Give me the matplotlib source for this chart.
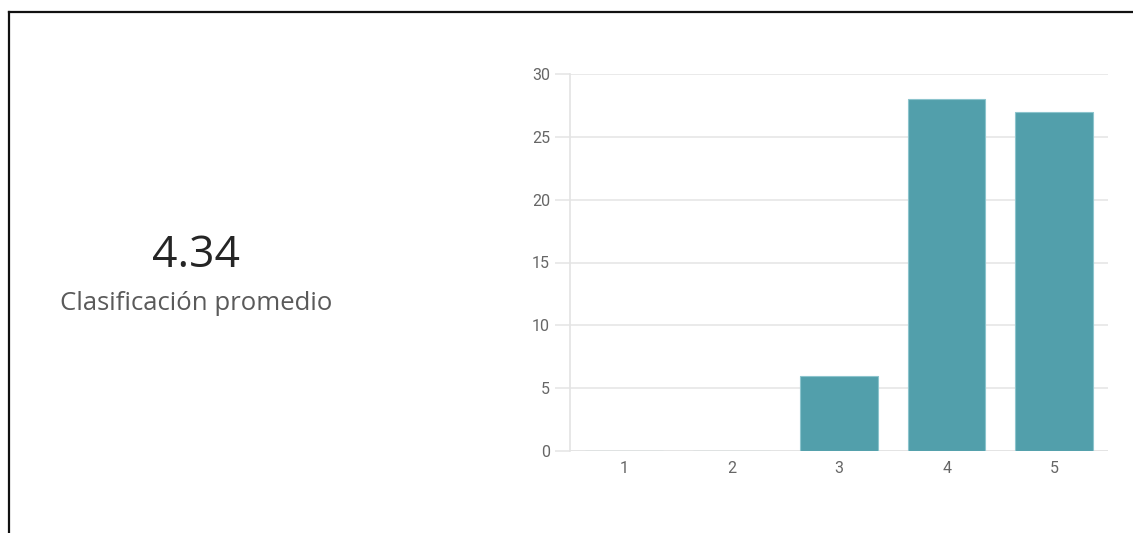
import matplotlib
matplotlib.use("Agg")
import matplotlib.pyplot as plt
from matplotlib.lines import Line2D

# Rating distribution
ratings = [1, 2, 3, 4, 5]
counts = [0, 0, 6, 28, 27]
yticks = [0, 5, 10, 15, 20, 25, 30]
average = "4.34"
average_label = "Clasificación promedio"

W, H = 1133, 533
fig = plt.figure(figsize=(W / 100, H / 100), dpi=100)
fig.patch.set_facecolor("white")

# Frame lines (top and left)
fig.add_artist(Line2D([8.5 / W, 1.0], [1 - 11.5 / H, 1 - 11.5 / H],
                      transform=fig.transFigure, color="#111111", lw=1.6))
fig.add_artist(Line2D([8.5 / W, 8.5 / W], [0.0, 1 - 11.5 / H],
                      transform=fig.transFigure, color="#111111", lw=1.6))

# Summary text
fig.text(196 / W, 1 - 256 / H, average, ha="center", va="center",
         fontsize=32, color="#252525", family="Open Sans")
fig.text(196 / W, 1 - 303 / H, average_label, ha="center", va="center",
         fontsize=18.5, color="#5a5a5a", family="Open Sans")

# Bar chart
ax = fig.add_axes([570 / W, 1 - 451 / H, (1108 - 570) / W, (451 - 74) / H])
ax.bar(ratings, counts, width=0.72, color="#529fab",
       edgecolor="#8cc4cd", linewidth=0.8, zorder=3)
ax.set_xlim(0.5, 5.5)
ax.set_ylim(0, 30)
ax.set_xticks(ratings)
ax.set_xticklabels([str(r) for r in ratings])
ax.set_yticks(yticks)
ax.set_yticklabels([str(t) for t in yticks])

ax.grid(axis="y", color="#e6e6e6", lw=1.2, zorder=0)
for side in ("top", "right", "bottom"):
    ax.spines[side].set_visible(False)
ax.spines["left"].set_color("#e3e3e3")
ax.spines["left"].set_linewidth(1.2)
ax.axhline(0, color="#e3e3e3", lw=1.2, zorder=2)

ax.tick_params(axis="y", length=10.8, width=1.2, color="#e6e6e6", pad=3.5,
               labelsize=11.5, labelcolor="#666666")
ax.tick_params(axis="x", length=0, pad=7, labelsize=11.5, labelcolor="#666666")
for lbl in ax.get_xticklabels() + ax.get_yticklabels():
    lbl.set_family("Roboto")

fig.savefig("out.png", dpi=100, facecolor="white")
